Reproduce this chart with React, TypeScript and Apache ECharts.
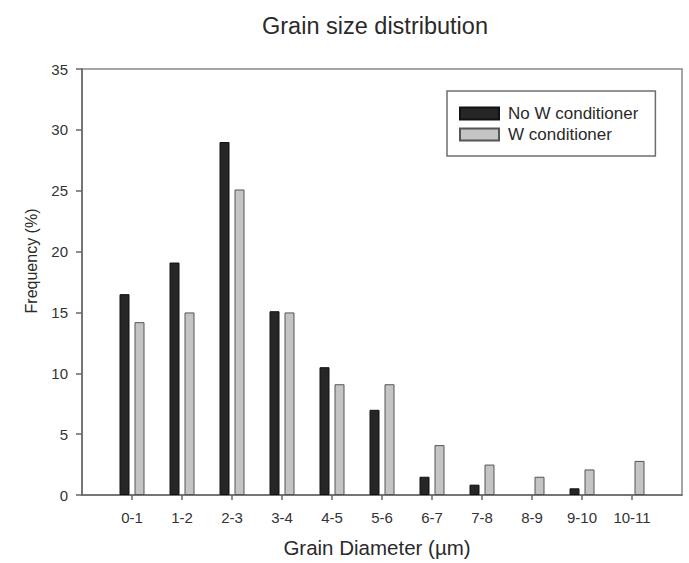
import React, { useEffect, useRef } from "react";
import * as echarts from "echarts";

const categories = ["0-1", "1-2", "2-3", "3-4", "4-5", "5-6", "6-7", "7-8", "8-9", "9-10", "10-11"];
const noWConditioner = [16.5, 19.1, 29.0, 15.1, 10.5, 7.0, 1.5, 0.85, 0, 0.55, 0];
const wConditioner = [14.2, 15.0, 25.1, 15.0, 9.1, 9.1, 4.1, 2.5, 1.5, 2.1, 2.8];
const seriesNames = ["No W conditioner", "W conditioner"];

const FONT = "'Liberation Sans', Arial, Helvetica, sans-serif";

export default function App() {
  const ref = useRef<HTMLDivElement>(null);
  useEffect(() => {
    document.body.style.margin = "0";
    if (!ref.current) return;
    const chart = echarts.init(ref.current, null, { renderer: "svg" });
    // pad the category axis with empty slots at both ends (axis spans 0..12)
    const axisCats = ["", ...categories, ""];
    const pad = (arr: number[]) => [
      null,
      ...arr.map((v) => (v === 0 ? { value: 0, itemStyle: { borderWidth: 0 } } : v)),
      null,
    ];
    chart.setOption({
      animation: false,
      backgroundColor: "#ffffff",
      textStyle: { fontFamily: FONT },
      title: {
        text: "Grain size distribution",
        left: 370,
        top: 9,
        textAlign: "center",
        textStyle: { fontFamily: FONT, fontSize: 23.5, fontWeight: "normal", color: "#2a2a2a" },
      },
      legend: {
        orient: "vertical",
        left: 447,
        top: 91,
        padding: [14, 17, 13, 12],
        itemGap: 4,
        itemWidth: 39,
        itemHeight: 12,
        icon: "rect",
        borderColor: "#6e6e6e",
        borderWidth: 1.5,
        data: seriesNames,
        textStyle: { fontFamily: FONT, fontSize: 17, color: "#2a2a2a", padding: [0, 0, 0, 4], lineHeight: 17 },
      },
      grid: {
        left: 82,
        right: 7,
        top: 69,
        bottom: 63,
        show: true,
        borderColor: "#888888",
        borderWidth: 1.5,
        containLabel: false,
      },
      xAxis: {
        type: "category",
        data: axisCats,
        boundaryGap: false,
        name: "Grain Diameter (µm)",
        nameLocation: "middle",
        nameGap: 42,
        nameTextStyle: { fontFamily: FONT, fontSize: 20.5, color: "#2a2a2a", padding: [0, 10, 0, 0] },
        axisLine: { show: true, lineStyle: { color: "#666666", width: 1.5 } },
        axisTick: {
          show: true,
          length: 5,
          inside: false,
          alignWithLabel: true,
          interval: (idx: number) => idx > 0 && idx < axisCats.length - 1,
          lineStyle: { color: "#666666", width: 1.5 },
        },
        axisLabel: { fontFamily: FONT, fontSize: 15, color: "#333333", margin: 15, interval: 0 },
        splitLine: { show: false },
      },
      yAxis: {
        type: "value",
        min: 0,
        max: 35,
        interval: 5,
        name: "Frequency (%)",
        nameLocation: "middle",
        nameGap: 43,
        nameTextStyle: { fontFamily: FONT, fontSize: 16, color: "#2a2a2a", padding: [0, 0, 0, 42] },
        axisLine: { show: true, lineStyle: { color: "#666666", width: 1.5 } },
        axisTick: { show: true, length: 6, inside: false, lineStyle: { color: "#666666", width: 1.5 } },
        axisLabel: { fontFamily: FONT, fontSize: 15, color: "#333333", margin: 14 },
        splitLine: { show: false },
      },
      series: [
        {
          name: seriesNames[0],
          type: "bar",
          data: pad(noWConditioner),
          barWidth: 10,
          barGap: "50%",
          itemStyle: { color: "#262626", borderColor: "#111111", borderWidth: 1 },
        },
        {
          name: seriesNames[1],
          type: "bar",
          data: pad(wConditioner),
          barWidth: 10,
          barGap: "50%",
          itemStyle: { color: "#c4c4c4", borderColor: "#555555", borderWidth: 1 },
        },
      ],
    });
    return () => chart.dispose();
  }, []);
  return <div ref={ref} style={{ width: 689, height: 563 }} />;
}
